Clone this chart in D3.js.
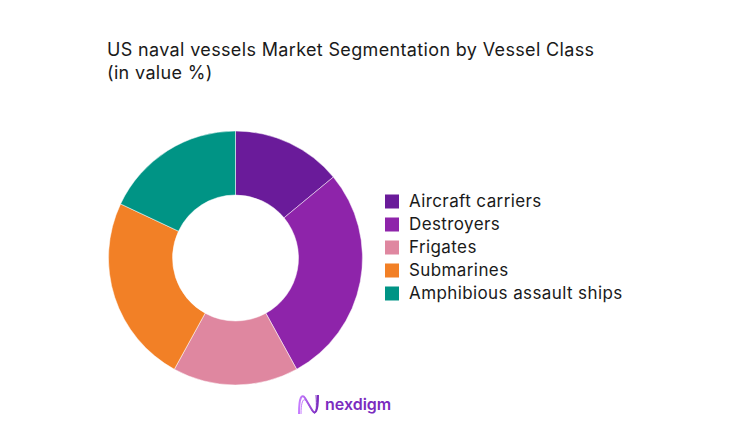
<!DOCTYPE html>
<html lang="en">
  <head>
    <meta charset="utf-8">
    <title>US naval vessels Market Segmentation</title>
    <script src="https://cdnjs.cloudflare.com/ajax/libs/d3/7.8.5/d3.min.js"></script>
    <style type="text/css">
      body { margin: 0; background: #fff; }
      text { font-family: Inter, "Open Sans", sans-serif; }
    </style>
  </head>
  <body>
    <script type="text/javascript">
    // chart data
    var categories = ["Aircraft carriers", "Destroyers", "Frigates", "Submarines", "Amphibious assault ships"];
    var shares = [14, 28, 16, 24, 18];
    var colors = ["#6a1b9a", "#8e24aa", "#df87a0", "#f28026", "#009485"];

    var w = 738, h = 444;
    var cx = 235.5, cy = 258, outerR = 127, innerR = 63;

    var svg = d3.select("body")
                .append("svg")
                .attr("width", w)
                .attr("height", h);

    // title
    var title = svg.append("text")
       .attr("x", 107)
       .attr("y", 56)
       .attr("font-size", "18px")
       .attr("letter-spacing", "0.35px")
       .attr("fill", "#1a1a1a");
    title.append("tspan").attr("x", 107).text("US naval vessels Market Segmentation by Vessel Class");
    title.append("tspan").attr("x", 107).attr("dy", 23).text("(in value %)");

    // donut
    var pie = d3.pie().sort(null).value(function(d) { return d; });
    var arc = d3.arc().innerRadius(innerR).outerRadius(outerR);

    svg.append("g")
       .attr("transform", "translate(" + cx + "," + cy + ")")
       .selectAll("path")
       .data(pie(shares))
       .enter()
       .append("path")
       .attr("d", arc)
       .attr("fill", function(d, i) { return colors[i]; })
       .attr("stroke", "#fff")
       .attr("stroke-width", 0.5);

    // legend
    var y = d3.scaleBand().domain(categories).range([190, 305]);
    var legend = svg.selectAll("g.legend")
       .data(categories)
       .enter()
       .append("g")
       .attr("class", "legend")
       .attr("transform", function(d) { return "translate(385," + (y(d) + y.bandwidth() / 2) + ")"; });

    legend.append("rect")
       .attr("x", 0)
       .attr("y", -7)
       .attr("width", 14)
       .attr("height", 14)
       .attr("fill", function(d, i) { return colors[i]; });

    legend.append("text")
       .attr("x", 24)
       .attr("dy", "0.35em")
       .attr("font-size", "17px")
       .attr("letter-spacing", "0.4px")
       .attr("fill", "#1a1a1a")
       .text(function(d) { return d; });

    // logo
    var grad = svg.append("defs").append("linearGradient")
       .attr("id", "lg").attr("x1", "0").attr("x2", "1");
    grad.append("stop").attr("offset", "0").attr("stop-color", "#c77dff");
    grad.append("stop").attr("offset", "1").attr("stop-color", "#7b2cbf");

    var logo = svg.append("g").attr("transform", "translate(298,394)");
    logo.append("path")
       .attr("d", "M1,20 C1,2 4,0 7,4 L14,16 C17,21 20,19 20,1")
       .attr("fill", "none")
       .attr("stroke", "url(#lg)")
       .attr("stroke-width", 2);
    logo.append("path")
       .attr("d", "M3,20 C3,6 6,3 9,8 L15,18 C18,22 19,16 18,1")
       .attr("fill", "none")
       .attr("stroke", "url(#lg)")
       .attr("stroke-width", 1);
    svg.append("text")
       .attr("x", 325)
       .attr("y", 410)
       .attr("font-size", "16px")
       .attr("font-weight", "600")
       .attr("fill", "#7b2cbf")
       .text("nexdigm");
    </script>
  </body>
</html>
